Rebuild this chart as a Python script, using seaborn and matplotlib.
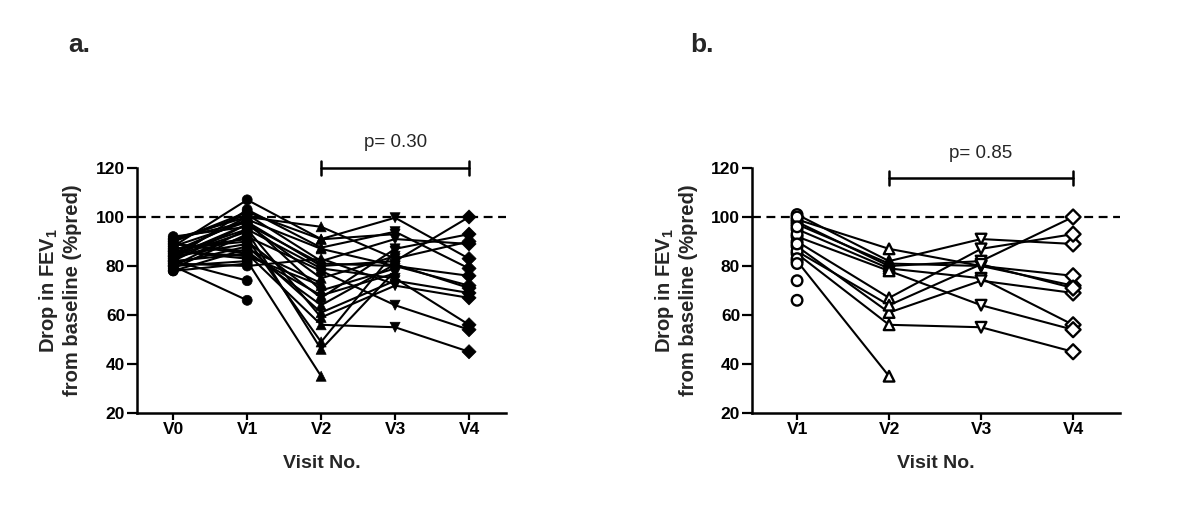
import numpy as np
import pandas as pd
import matplotlib
matplotlib.use("Agg")
import matplotlib.pyplot as plt
import seaborn as sns

nan = np.nan

# ---------------- data ----------------
visits_a = ["V0", "V1", "V2", "V3", "V4"]
visits_b = ["V1", "V2", "V3", "V4"]

subjects = list(range(1, 33))
v0 = [86, 90, 84, 88, 85, 83, 87, 81, 82, 80, 89, 82, 80, 91, 79, 84, 86, 92, 78,
      85, 88, 83, 80, 87, 84, 91, 78, 82, 89, 86, 90, 81]
v1 = [99, 101, 97, 98, 95, 92, 90, 88, 85, 82, 86, 74, 66, 100, 93, 89, 83, 96, 81,
      100, 107, 103, 95, 91, 94, 98, 87, 97, 85, 84, 102, 80]
v2 = [87, 82, 81, 80, 79, 78, 67, 61, 56, 35, 64, nan, nan, nan, nan, nan, nan, nan, nan,
      96, 91, 87.5, 59, 49, 46, 70, 73, 75, 68, 72, 90.9, 83]
v3 = [80, 91, 80, 82, 75, 64, 87, 74, 55, nan, 80.7, nan, nan, nan, nan, nan, nan, nan, nan,
      83, 99.7, 94, 72, 86, 78, 79, nan, 84, 77, nan, 93, 72.5]
v4 = [72, 89, 76, 100, 56, 54, 93, 69, 45, nan, 71, nan, nan, nan, nan, nan, nan, nan, nan,
      90, 83, 79, 67, nan, nan, nan, nan, nan, nan, nan, nan, nan]

panel_b_subjects = list(range(1, 20))

p_text_a = "p= 0.30"
p_text_b = "p= 0.85"
ylabel = "Drop in FEV$_\\mathbf{1}$\nfrom baseline (%pred)"
xlabel = "Visit No."

# ---------------- long format ----------------
wide = pd.DataFrame({"subject": subjects, "V0": v0, "V1": v1, "V2": v2, "V3": v3, "V4": v4})
long_a = wide.melt(id_vars="subject", value_vars=visits_a, var_name="visit", value_name="value").dropna()
long_a["pos"] = long_a["visit"].map({v: i for i, v in enumerate(visits_a)})
long_b = wide[wide["subject"].isin(panel_b_subjects)].melt(
    id_vars="subject", value_vars=visits_b, var_name="visit", value_name="value").dropna()
long_b["pos"] = long_b["visit"].map({v: i for i, v in enumerate(visits_b)})

# ---------------- style ----------------
sns.set_theme(style="ticks")
plt.rcParams["font.family"] = ["Liberation Sans", "DejaVu Sans"]
plt.rcParams["mathtext.fontset"] = "custom"
plt.rcParams["mathtext.rm"] = "Liberation Sans"
plt.rcParams["mathtext.bf"] = "Liberation Sans:bold"
plt.rcParams["mathtext.it"] = "Liberation Sans:italic"

markers = {"V0": "o", "V1": "o", "V2": "^", "V3": "v", "V4": "D"}

fig = plt.figure(figsize=(12, 5.11), dpi=100)
ax_a = fig.add_axes([137 / 1200, 98 / 511, 369 / 1200, 245 / 511])
ax_b = fig.add_axes([752 / 1200, 98 / 511, 368 / 1200, 245 / 511])


def style_axis(ax, labels, xlim):
    ax.set_xlim(*xlim)
    ax.set_ylim(20, 120)
    ax.set_yticks([20, 40, 60, 80, 100, 120])
    ax.set_xticks(range(len(labels)))
    ax.set_xticklabels(labels)
    for s in ["top", "right"]:
        ax.spines[s].set_visible(False)
    for s in ["left", "bottom"]:
        ax.spines[s].set_linewidth(1.8)
        ax.spines[s].set_color("black")
    ax.tick_params(axis="both", which="major", direction="out", width=1.6,
                   colors="black", labelsize=12.5, pad=1.5)
    ax.tick_params(axis="y", length=7)
    ax.tick_params(axis="x", length=5)
    for lab in ax.get_xticklabels() + ax.get_yticklabels():
        lab.set_fontweight("bold")
    ax.set_xlabel(xlabel, fontsize=14, fontweight="bold")
    ax.xaxis.set_label_coords(0.5, -0.17)
    ax.set_ylabel(ylabel, fontsize=14.5, fontweight="bold", linespacing=1.2)
    ax.yaxis.set_label_coords(-0.148, 0.5)
    ax.axhline(100, color="black", lw=1.6, ls=(0, (4, 2.5)), zorder=1)
    ax.set_facecolor("white")


# Panel a
sns.lineplot(data=long_a, x="pos", y="value", units="subject", estimator=None,
             color="black", lw=1.5, legend=False, ax=ax_a, zorder=2)
sns.scatterplot(data=long_a, x="pos", y="value", style="visit", markers=markers,
                color="black", edgecolor="black", s=52, linewidth=0.5,
                legend=False, ax=ax_a, zorder=3)
style_axis(ax_a, visits_a, (-0.49, 4.5))

# Panel b
sns.lineplot(data=long_b, x="pos", y="value", units="subject", estimator=None,
             color="black", lw=1.5, legend=False, ax=ax_b, zorder=2)
sns.scatterplot(data=long_b, x="pos", y="value", style="visit", markers=markers,
                color="white", edgecolor="black", s=58, linewidth=1.7,
                legend=False, ax=ax_b, zorder=3)
style_axis(ax_b, visits_b, (-0.49, 3.51))


def bracket(ax, x0, x1, y, text, ty):
    ax.plot([x0, x1], [y, y], color="black", lw=1.8, clip_on=False, zorder=5)
    for xx in (x0, x1):
        ax.plot([xx, xx], [y - 2.9, y + 2.9], color="black", lw=1.8, clip_on=False, zorder=5)
    ax.text((x0 + x1) / 2, ty, text, ha="center", va="center", fontsize=13.5, clip_on=False)


bracket(ax_a, 2, 4, 120, p_text_a, 130.5)
bracket(ax_b, 1, 3, 116, p_text_b, 125.8)

fig.text(79 / 1200, 1 - 45 / 511, "a.", fontsize=19, fontweight="bold", ha="center", va="center")
fig.text(702 / 1200, 1 - 45 / 511, "b.", fontsize=19, fontweight="bold", ha="center", va="center")

fig.savefig("out.png", dpi=100, facecolor="white")
